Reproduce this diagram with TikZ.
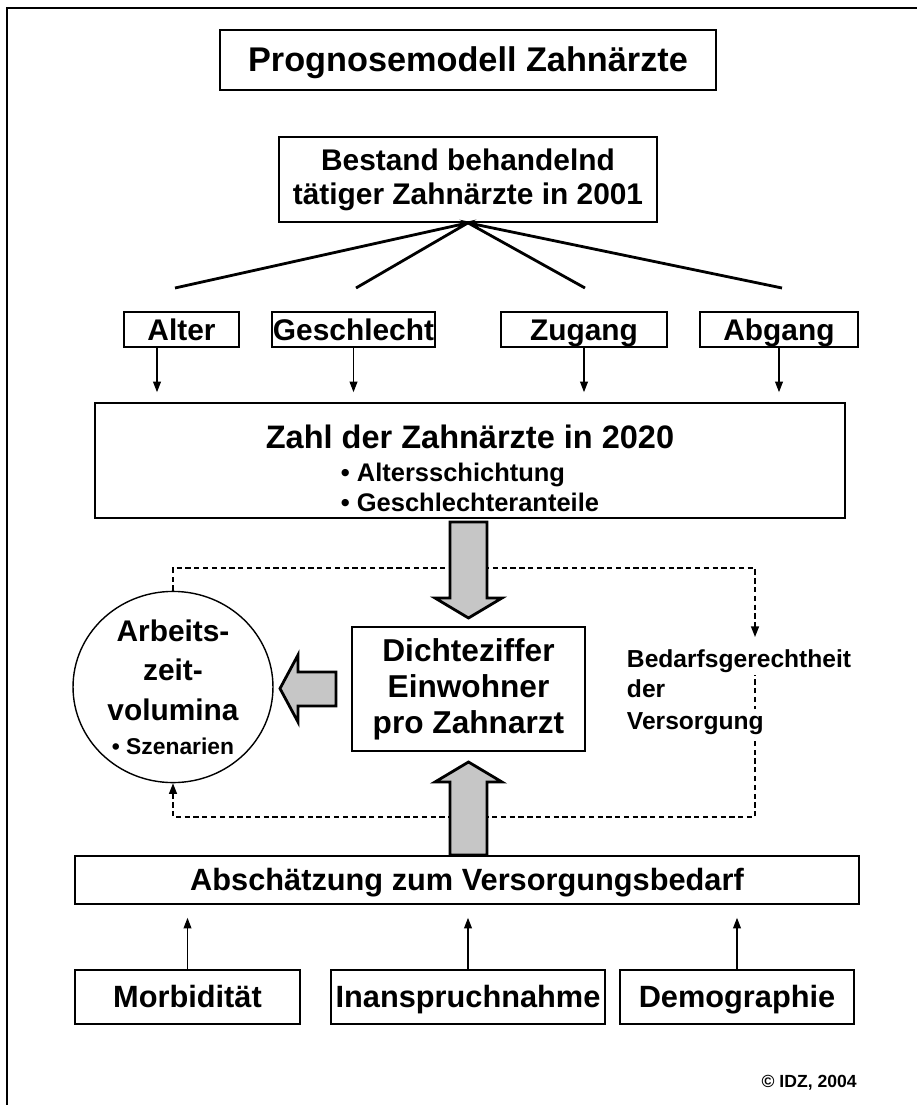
\documentclass[tikz,border=0pt]{standalone}
\usepackage{fontspec}
\setmainfont{Liberation Sans}
\usetikzlibrary{arrows.meta,shapes.geometric,backgrounds}

\tikzset{
  box/.style={draw,line width=1pt,inner sep=0pt},
  smallbox/.style={box,minimum height=0.7cm,text height=13.6pt,text depth=1.1pt,font=\bfseries\fontsize{17}{19}\selectfont},
  basebox/.style={box,minimum height=1.08cm,text height=14pt,text depth=1.5pt,font=\bfseries\fontsize{17.5}{20}\selectfont},
  fan/.style={line width=1.6pt},
  link/.style={line width=0.6pt,-{Triangle[length=6pt,width=4.5pt]}},
  dashlink/.style={line width=0.8pt,dash pattern=on 3pt off 2pt},
  blockarrow/.style={draw,line width=1.6pt,fill=gray!45},
  sidetext/.style={anchor=base west,inner sep=1.5pt,fill=white,font=\bfseries\fontsize{14}{16}\selectfont}
}

\begin{document}
\begin{tikzpicture}[x=0.02cm,y=-0.02cm]
\useasboundingbox (0,0) rectangle (917,1105);
\draw[line width=1.2pt] (7,1105) -- (7,8) -- (917,8);

% Kopf
\node[box,minimum width=9.92cm,minimum height=1.2cm,text height=14.6pt,text depth=1pt,font=\bfseries\fontsize{19.5}{22}\selectfont] (titel) at (468,60) {Prognosemodell Zahnärzte};
\node[box,align=center,minimum width=7.56cm,minimum height=1.7cm,font=\bfseries\fontsize{17}{19.4}\selectfont] (bestand) at (468,179.5) {Bestand behandelnd\\tätiger Zahnärzte in 2001};

% Einflussgroessen
\node[smallbox,minimum width=2.3cm] (alter) at (181.5,329.5) {Alter};
\node[smallbox,minimum width=3.26cm] (geschlecht) at (353.5,329.5) {Geschlecht};
\node[smallbox,minimum width=3.32cm] (zugang) at (584,329.5) {Zugang};
\node[smallbox,minimum width=3.16cm] (abgang) at (779,329.5) {Abgang};
\coordinate (f1) at (175,288);
\coordinate (f2) at (356,288);
\coordinate (f3) at (585,288);
\coordinate (f4) at (782,288);
\draw[fan] (f1) -- (bestand.south) -- (f2);
\draw[fan] (f3) -- (bestand.south) -- (f4);

\node[box,minimum width=15cm,minimum height=2.3cm] (zahl) at (470,460.5) {};
\node[font=\bfseries\fontsize{18.5}{21}\selectfont] (zahltitel) at (470,437) {Zahl der Zahnärzte in 2020};
\node[align=left,font=\bfseries\fontsize{14.5}{17}\selectfont] (zahlpunkte) at (470,487) {• Altersschichtung\\• Geschlechteranteile};

\draw[link,shorten >=0.2cm] ([xshift=-0.49cm]alter.south) -- ([xshift=-0.49cm]alter.south |- zahl.north);
\draw[link,shorten >=0.2cm] (geschlecht.south) -- (geschlecht.south |- zahl.north);
\draw[link,shorten >=0.2cm] (zugang.south) -- (zugang.south |- zahl.north);
\draw[link,shorten >=0.2cm] (abgang.south) -- (abgang.south |- zahl.north);

% Mitte
\node[box,align=center,minimum width=4.66cm,minimum height=2.48cm,font=\bfseries\fontsize{18}{20.5}\selectfont] (dichte) at (468.5,689) {Dichteziffer\\Einwohner\\pro Zahnarzt};
\node[draw,ellipse,line width=0.8pt,inner sep=0pt,minimum width=4cm,minimum height=3.74cm,align=center,font=\bfseries\fontsize{17}{22.5}\selectfont] (arbeit) at (173,687) {Arbeits-\\zeit-\\volumina\\[-3pt]{\fontsize{13}{15}\selectfont • Szenarien}};

\node[sidetext] (bedarfa) at (624,667) {Bedarfsgerechtheit};
\node[sidetext] (bedarfb) at (624,697) {der};
\node[sidetext] (bedarfc) at (624,729) {Versorgung};
\coordinate (oben) at (755,568);
\coordinate (unten) at (755,817);
\coordinate (pfeilziel) at (755,637);
\begin{pgfonlayer}{background}
\draw[dashlink,-{Triangle[length=6pt,width=4.5pt]}] (arbeit.north) |- (oben) -- (pfeilziel);
\draw[dashlink,{Triangle[length=6pt,width=4.5pt]}-] (arbeit.south) |- (unten) -- (unten |- bedarfa.south);
\end{pgfonlayer}

\draw[blockarrow] (450,522) -- (450,598) -- (435,598) -- (468.5,618) -- (502,598) -- (487,598) -- (487,522) -- cycle;
\draw[blockarrow] (450,855) -- (450,782) -- (435,782) -- (468.5,762) -- (502,782) -- (487,782) -- (487,855) -- cycle;
\draw[blockarrow] (336,672) -- (298,672) -- (298,655) -- (280,688.5) -- (298,722) -- (298,706) -- (336,706) -- cycle;

% Bedarf
\node[box,minimum width=15.68cm,minimum height=0.96cm,text height=14pt,text depth=1.5pt,font=\bfseries\fontsize{17.5}{20}\selectfont] (bedarf) at (467,880) {Abschätzung zum Versorgungsbedarf};
\node[basebox,minimum width=4.5cm] (morb) at (187.5,997) {Morbidität};
\node[basebox,minimum width=5.48cm] (inan) at (468,997) {Inanspruchnahme};
\node[basebox,minimum width=4.68cm] (demo) at (737,997) {Demographie};
\draw[link,shorten >=0.26cm] (morb.north) -- (morb.north |- bedarf.south);
\draw[link,shorten >=0.26cm] (inan.north) -- (inan.north |- bedarf.south);
\draw[link,shorten >=0.26cm] (demo.north) -- (demo.north |- bedarf.south);

\node[anchor=east,inner sep=0pt,font=\bfseries\fontsize{10}{12}\selectfont] (copy) at (857,1083) {© IDZ, 2004};
\end{tikzpicture}
\end{document}
